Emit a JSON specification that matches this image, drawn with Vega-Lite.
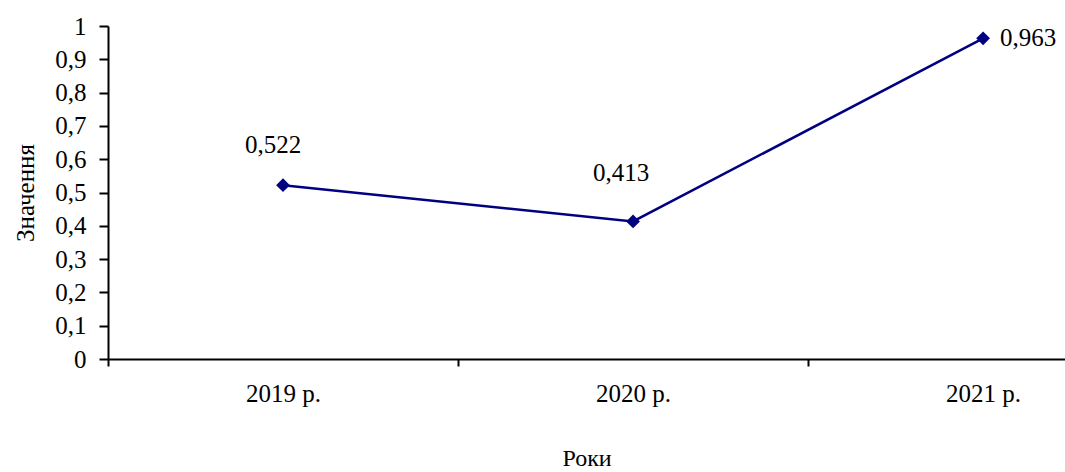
{
  "$schema": "https://vega.github.io/schema/vega-lite/v6.json",
  "autosize": {"type": "none"},
  "width": 957,
  "height": 333,
  "padding": {"left": 108, "top": 26, "right": 0, "bottom": 113},
  "background": "white",
  "config": {
    "locale": {"number": {"decimal": ",", "thousands": " ", "grouping": [3], "currency": ["", ""]}},
    "font": "Times New Roman, Liberation Serif, serif",
    "view": {"stroke": null},
    "text": {"font": "Times New Roman, Liberation Serif, serif"},
    "axis": {
      "labelFont": "Times New Roman, Liberation Serif, serif",
      "titleFont": "Times New Roman, Liberation Serif, serif",
      "labelFontSize": 25,
      "titleFontSize": 24,
      "titleFontWeight": "normal",
      "labelColor": "black",
      "titleColor": "black",
      "domainColor": "black",
      "tickColor": "black",
      "domainWidth": 2,
      "tickWidth": 2,
      "grid": false
    }
  },
  "data": {
    "values": [
      {"year": 2019, "value": 0.522},
      {"year": 2020, "value": 0.413},
      {"year": 2021, "value": 0.963}
    ]
  },
  "encoding": {
    "x": {
      "field": "year",
      "type": "quantitative",
      "scale": {"domain": [2018.5, 2021.234], "nice": false, "zero": false},
      "axis": {
        "title": "Роки",
        "values": [2018.5, 2019, 2019.5, 2020, 2020.5, 2021],
        "labelExpr": "datum.value % 1 === 0 ? datum.value + ' р.' : ''",
        "tickOpacity": {"condition": {"test": "datum.value % 1 === 0", "value": 0}, "value": 1},
        "tickSize": 7,
        "labelPadding": 15,
        "titlePadding": 40,
        "labelFlush": false,
        "labelOverlap": false
      }
    },
    "y": {
      "field": "value",
      "type": "quantitative",
      "scale": {"domain": [0, 1], "nice": false},
      "axis": {
        "title": "Значення",
        "titleFontSize": 25,
        "values": [0, 0.1, 0.2, 0.3, 0.4, 0.5, 0.6, 0.7, 0.8, 0.9, 1],
        "format": ".1~f",
        "tickSize": 9,
        "labelPadding": 13,
        "titlePadding": 16,
        "labelFlush": false,
        "labelOverlap": false
      }
    }
  },
  "layer": [
    {"mark": {"type": "line", "color": "#000080", "strokeWidth": 2.5}},
    {"mark": {"type": "point", "shape": "diamond", "filled": true, "size": 190, "color": "#000080", "opacity": 1}},
    {
      "transform": [{"filter": "datum.year === 2019"}],
      "mark": {"type": "text", "fontSize": 25, "align": "center", "baseline": "middle", "dx": -10, "dy": -40, "color": "black"},
      "encoding": {"text": {"field": "value", "type": "quantitative", "format": ".3f"}}
    },
    {
      "transform": [{"filter": "datum.year === 2020"}],
      "mark": {"type": "text", "fontSize": 25, "align": "center", "baseline": "middle", "dx": -12, "dy": -48, "color": "black"},
      "encoding": {"text": {"field": "value", "type": "quantitative", "format": ".3f"}}
    },
    {
      "transform": [{"filter": "datum.year === 2021"}],
      "mark": {"type": "text", "fontSize": 25, "align": "left", "baseline": "middle", "dx": 17, "dy": 0, "color": "black"},
      "encoding": {"text": {"field": "value", "type": "quantitative", "format": ".3f"}}
    }
  ]
}
